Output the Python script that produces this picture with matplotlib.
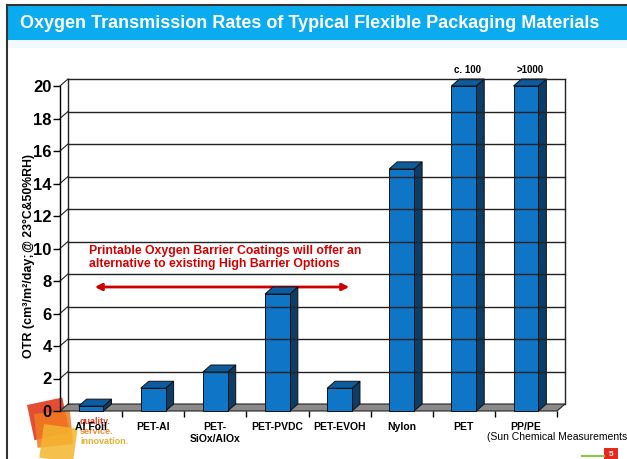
import matplotlib.pyplot as plt
from matplotlib.patches import Polygon, Rectangle
import numpy as np

plt.rcParams['font.family'] = ['Liberation Sans', 'DejaVu Sans']

# OTR values (values above 20 are capped at the top of the scale)
materials = ['Al Foil', 'PET-Al', 'PET-\nSiOx/AlOx', 'PET-PVDC', 'PET-EVOH', 'Nylon', 'PET', 'PP/PE']
otr = [0.3, 1.4, 2.4, 7.2, 1.4, 14.9, 20, 20]
bar_notes = ['', '', '', '', '', '', 'c. 100', '>1000']
y_ticks = np.arange(0, 21, 2)

W, H = 627, 459
fig = plt.figure(figsize=(W / 100, H / 100), dpi=100)

# pixel-space layer for the slide frame, title bar and logo
bg = fig.add_axes([0, 0, 1, 1])
bg.set_xlim(0, W)
bg.set_ylim(H, 0)
bg.axis('off')

bg.add_patch(Rectangle((8, 6), W - 8, 34, color='#0aacef', lw=0))
bg.add_patch(Rectangle((8, 40), W - 8, 8, color='#f2f9fd', lw=0))
bg.plot([7, 7], [5, H], color='#333333', lw=1.5)
bg.plot([7, W], [5, 5], color='#333333', lw=1.5)
bg.text(20, 23, 'Oxygen Transmission Rates of Typical Flexible Packaging Materials',
        color='white', fontsize=13, weight='bold', va='center', ha='left')

# main chart, front plane of the 3D box
ax = fig.add_axes([60 / W, (H - 411) / H, 497 / W, 325 / H])
ax.set_xlim(0, len(materials))
ax.set_ylim(0, 20)
n = len(materials)
dx = 8 / (497 / n)
dy = 7 / (325 / 20)

for s in ['top', 'right', 'bottom']:
    ax.spines[s].set_visible(False)
ax.spines['left'].set_linewidth(1)
ax.patch.set_visible(False)

# back wall grid and left wall diagonals
for v in y_ticks[1:]:
    ax.plot([dx, n + dx], [v + dy, v + dy], color='#222222', lw=1, clip_on=False)
    ax.plot([0, dx], [v, v + dy], color='#222222', lw=0.8, clip_on=False)
ax.plot([dx, dx], [dy, 20 + dy], color='#222222', lw=1, clip_on=False)
ax.plot([n + dx, n + dx], [dy, 20 + dy], color='#222222', lw=1, clip_on=False)

# floor
ax.add_patch(Polygon([(0, 0), (n, 0), (n + dx, dy), (dx, dy)], closed=True,
                     facecolor='#8a8a8a', edgecolor='#222222', lw=0.8, clip_on=False))

# 3D columns
hw = 0.2
for i, v in enumerate(otr):
    xc = i + 0.5
    x0, x1 = xc - hw, xc + hw
    ax.add_patch(Polygon([(x1, 0), (x1 + dx, dy), (x1 + dx, v + dy), (x1, v)], closed=True,
                         facecolor='#0b3d66', edgecolor='#111111', lw=0.7, clip_on=False))
    ax.add_patch(Polygon([(x0, v), (x1, v), (x1 + dx, v + dy), (x0 + dx, v + dy)], closed=True,
                         facecolor='#0d5c9e', edgecolor='#111111', lw=0.7, clip_on=False))
    ax.add_patch(Rectangle((x0, 0), 2 * hw, v, facecolor='#0f75c6',
                           edgecolor='#111111', lw=0.7, clip_on=False))
    if bar_notes[i]:
        ax.text(xc + dx / 2, v + dy + 0.25, bar_notes[i], ha='center', va='bottom',
                fontsize=7, weight='bold')

ax.set_yticks(y_ticks)
ax.set_yticklabels([str(t) for t in y_ticks], fontsize=12, weight='bold')
ax.tick_params(axis='y', length=5, width=1, pad=1)

ax.set_xticks(np.arange(n) + 0.5)
ax.set_xticklabels(materials, fontsize=7.5, weight='bold', linespacing=1.25)
ax.set_xticks(np.arange(1, n + 1), minor=True)
ax.tick_params(axis='x', which='major', length=0, pad=8)
ax.tick_params(axis='x', which='minor', length=4, width=1)

# axis title, split into two sizes
bg.text(35, 358, 'OTR (cm³/m²/day; ', rotation=90, ha='right', va='bottom',
        fontsize=9, weight='bold')
bg.text(35, 252, '@ 23°C&50%RH)', rotation=90, ha='right', va='bottom',
        fontsize=8.8, weight='bold')

# callout
bg.text(89, 245, 'Printable Oxygen Barrier Coatings will offer an\nalternative to existing High Barrier Options',
        color='#d40000', fontsize=8.8, weight='bold', va='top', ha='left', linespacing=1.15)
bg.annotate('', xy=(92, 287), xytext=(352, 287),
            arrowprops=dict(arrowstyle='<|-|>', color='#cc0000', lw=2, mutation_scale=10))

bg.text(487, 437, '(Sun Chemical Measurements)', fontsize=7.5, va='center', ha='left')

# logo
bg.add_patch(Rectangle((27, 405), 36, 36, angle=-12, facecolor='#e03a1e', alpha=0.9, lw=0))
bg.add_patch(Rectangle((34, 414), 36, 34, angle=-6, facecolor='#f07a20', alpha=0.85, lw=0))
bg.add_patch(Rectangle((44, 424), 34, 34, angle=8, facecolor='#f5b52e', alpha=0.85, lw=0))
bg.text(80, 421, 'quality.', color='#e0402a', fontsize=6.5, weight='bold', va='center')
bg.text(80, 432, 'service.', color='#f08a30', fontsize=6.5, weight='bold', va='center')
bg.text(80, 442, 'innovation.', color='#e6ae30', fontsize=6.5, weight='bold', va='center')

# slide number
bg.plot([582, 604], [456, 456], color='#8dc63f', lw=1.5)
bg.add_patch(Rectangle((604, 448), 14, 11, facecolor='#e8281e', lw=0))
bg.text(611, 455, '5', color='white', fontsize=6, weight='bold', ha='center', va='center')

fig.savefig('out.png', dpi=100)
